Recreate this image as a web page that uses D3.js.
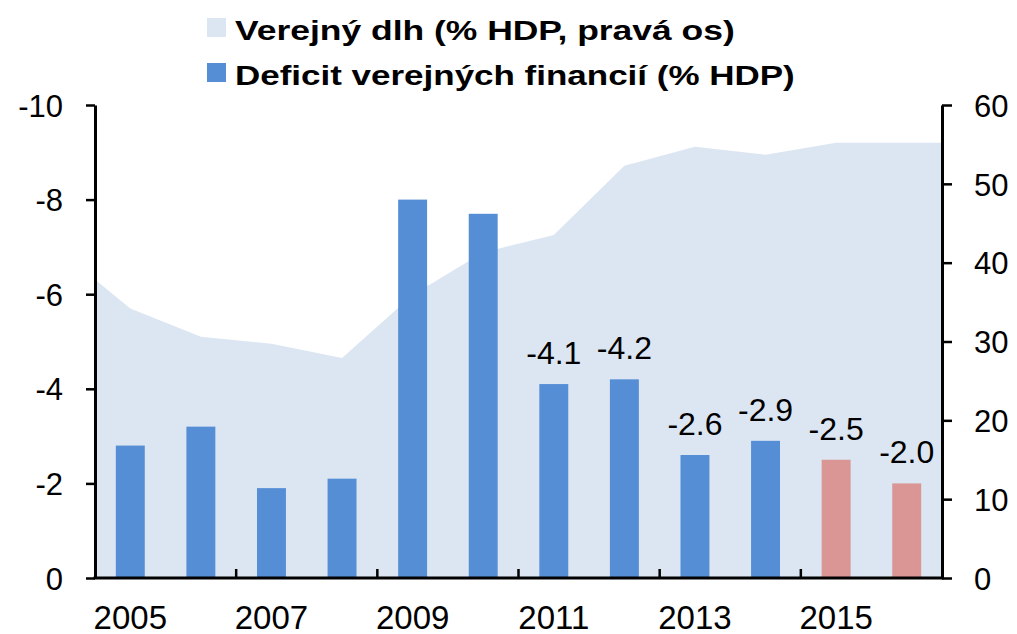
<!DOCTYPE html>
<html>
<head>
<meta charset="utf-8">
<script src="https://cdn.jsdelivr.net/npm/d3@7"></script>
<style>
  body { margin: 0; background: #fff; }
  text { font-family: "Liberation Sans", Arial, sans-serif; fill: #000; }
</style>
</head>
<body>
<div id="chart"></div>
<script>
// chart data
var years = ["2005", "2006", "2007", "2008", "2009", "2010", "2011", "2012", "2013", "2014", "2015", "2016"];
var deficit = [-2.8, -3.2, -1.9, -2.1, -8.0, -7.7, -4.1, -4.2, -2.6, -2.9, -2.5, -2.0];
var forecast = [false, false, false, false, false, false, false, false, false, false, true, true];
var labelled = [false, false, false, false, false, false, true, true, true, true, true, true];
// debt incl. one year before/after so the area runs to the plot edges
var debtYears = ["2004", "2005", "2006", "2007", "2008", "2009", "2010", "2011", "2012", "2013", "2014", "2015", "2016", "2017"];
var debt = [41.5, 34.2, 30.6, 29.7, 27.9, 35.9, 41.3, 43.5, 52.3, 54.7, 53.7, 55.2, 55.2, 55.2];
var leftTicks = [0, -2, -4, -6, -8, -10];
var rightTicks = [0, 10, 20, 30, 40, 50, 60];
var xLabelYears = ["2005", "2007", "2009", "2011", "2013", "2015"];
var legendItems = ["Verejný dlh (% HDP, pravá os)", "Deficit verejných financií (% HDP)"];

(function () {
    var width = 1017, height = 634;
    var pLeft = 95, pRight = 942, pTop = 105, pBottom = 578;
    var font = "'Liberation Sans', Arial, sans-serif";

    var svg = d3.select("#chart").append("svg")
        .attr("width", width)
        .attr("height", height);

    var x = d3.scaleBand().domain(years).range([pLeft, pRight])
        .paddingInner(0.59).paddingOuter(0.295);
    var step = x.step();
    var yL = d3.scaleLinear().domain([0, -10]).range([pBottom, pTop]);
    var yR = d3.scaleLinear().domain([0, 60]).range([pBottom, pTop]);

    function cx(yr) {
        // center of a category, also one step outside the domain for the area
        var i = +yr - +years[0];
        return pLeft + step * (i + 0.5);
    }

    svg.append("clipPath").attr("id", "plotclip")
        .append("rect").attr("x", pLeft).attr("y", pTop - 20)
        .attr("width", pRight - pLeft).attr("height", pBottom - pTop + 20);

    var area = d3.area()
        .x(function (d, i) { return cx(debtYears[i]); })
        .y0(pBottom)
        .y1(function (d) { return yR(d); });

    svg.append("path")
        .datum(debt)
        .attr("clip-path", "url(#plotclip)")
        .attr("fill", "#DCE6F2")
        .attr("d", area);

    svg.append("g").selectAll("rect")
        .data(deficit)
        .enter().append("rect")
        .attr("x", function (d, i) { return x(years[i]); })
        .attr("width", x.bandwidth())
        .attr("y", function (d) { return yL(d); })
        .attr("height", function (d) { return pBottom - yL(d); })
        .attr("fill", function (d, i) { return forecast[i] ? "#D99694" : "#558ED5"; });

    // data labels
    var lab = years.map(function (y, i) { return {year: y, v: deficit[i], on: labelled[i]}; })
        .filter(function (d) { return d.on; });
    svg.append("g").selectAll("text")
        .data(lab)
        .enter().append("text")
        .attr("x", function (d) { return x(d.year) + x.bandwidth() / 2; })
        .attr("y", function (d) { return yL(d.v) - 20; })
        .attr("text-anchor", "middle")
        .style("font-size", "32px")
        .text(function (d) { return d.v.toFixed(1); });

    function styleAxis(ax, size) {
        ax.select(".domain").attr("stroke", "#000").attr("stroke-width", 3);
        ax.selectAll(".tick line").attr("stroke", "#000").attr("stroke-width", 2.5);
        ax.selectAll(".tick text").style("font-size", size).style("font-family", font)
            .attr("fill", "#000");
    }

    // left axis
    var axL = svg.append("g")
        .attr("transform", "translate(" + pLeft + ",0)")
        .call(d3.axisLeft(yL).tickValues(leftTicks).tickSize(9).tickPadding(23)
            .tickSizeOuter(0).tickFormat(function (d) { return String(d); }));
    styleAxis(axL, "31px");
    axL.selectAll(".tick text").attr("dy", "0.36em");

    // right axis
    var axR = svg.append("g")
        .attr("transform", "translate(" + pRight + ",0)")
        .call(d3.axisRight(yR).tickValues(rightTicks).tickSize(10).tickPadding(22).tickSizeOuter(0));
    styleAxis(axR, "31px");
    axR.selectAll(".tick text").attr("dy", "0.36em");

    // bottom axis
    var axB = svg.append("g")
        .attr("transform", "translate(0," + pBottom + ")")
        .call(d3.axisBottom(x).tickValues(xLabelYears).tickSize(0).tickPadding(28).tickSizeOuter(0));
    styleAxis(axB, "33px");
    axB.select(".domain").attr("d", "M" + (pLeft - 1.5) + ",0H" + (pRight + 1.5));
    axB.selectAll(".tick text").attr("dy", "0.71em");

    // inward ticks between category pairs
    svg.append("g").selectAll("line")
        .data([2, 4, 6, 8, 10])
        .enter().append("line")
        .attr("x1", function (k) { return pLeft + k * step; })
        .attr("x2", function (k) { return pLeft + k * step; })
        .attr("y1", pBottom)
        .attr("y2", pBottom - 9)
        .attr("stroke", "#000")
        .attr("stroke-width", 2.5);

    // legend
    var legendColors = ["#DCE6F2", "#558ED5"];
    var legendWidths = [500, 560];
    var lg = svg.append("g").selectAll("g")
        .data(legendItems)
        .enter().append("g")
        .attr("transform", function (d, i) { return "translate(207," + (18 + i * 45) + ")"; });
    lg.append("rect")
        .attr("width", 19).attr("height", 19)
        .attr("fill", function (d, i) { return legendColors[i]; });
    lg.append("text")
        .attr("y", 22)
        .style("font-size", "28px").style("font-weight", "bold")
        .text(function (d) { return d; })
        .each(function (d, i) {
            var w = this.getComputedTextLength();
            d3.select(this).attr("transform", "translate(28,0) scale(" + (legendWidths[i] / w) + ",1)");
        });
})();
</script>
</body>
</html>
